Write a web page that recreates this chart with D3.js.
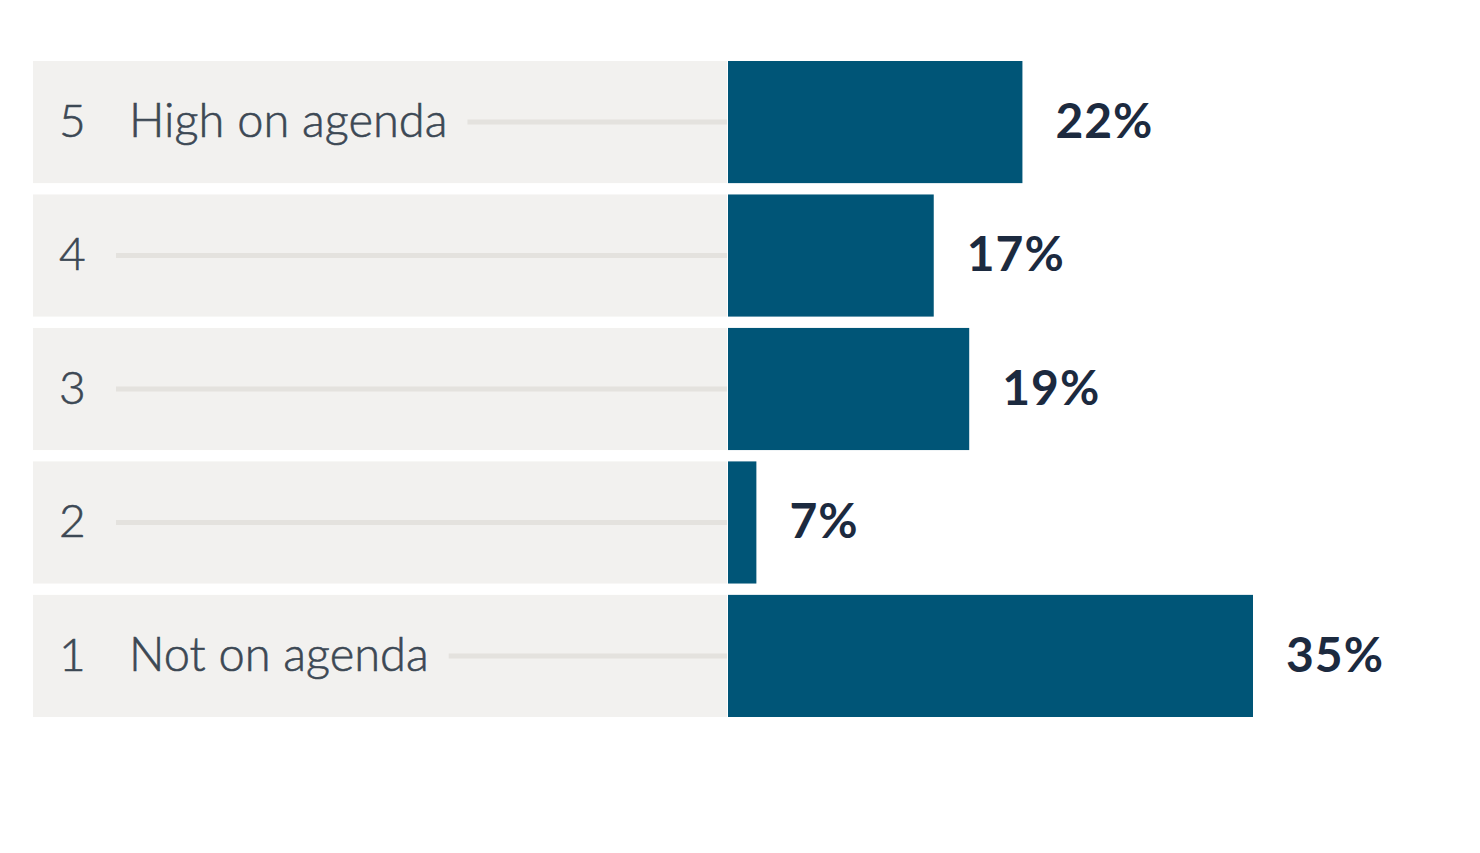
<!DOCTYPE html>
<html>
<head>
<meta charset="utf-8">
<script src="https://cdn.jsdelivr.net/npm/d3@7"></script>
<style>
  body { margin: 0; background: #fff; }
  svg { display: block; }
</style>
</head>
<body>
<svg id="chart"></svg>
<script>
const width = 1480;
const height = 853;

// agenda rating, top to bottom
const ratings = ['5', '4', '3', '2', '1'];
const ratingLabels = ['High on agenda', '', '', '', 'Not on agenda'];
const shares = [22, 17, 19, 7, 35];

const rows = ratings.map((r, i) => ({ rating: r, label: ratingLabels[i], value: shares[i] }));

const svg = d3.select('#chart')
    .attr('width', width)
    .attr('height', height)
    .style('font-family', '"Source Sans Pro", Lato, "Open Sans", sans-serif');

const y = d3.scaleBand()
    .domain(ratings)
    .range([61, 717])
    .paddingInner(0.085)
    .paddingOuter(0);

const x = d3.scaleLinear()
    .domain([5.4, 35])
    .range([728, 1253]);

const panelLeft = 33;
const panelRight = 727;

const row = svg.append('g')
  .selectAll('g')
  .data(rows)
  .join('g')
    .attr('transform', d => `translate(0,${y(d.rating)})`);

row.append('rect')
    .attr('x', panelLeft)
    .attr('width', panelRight - panelLeft)
    .attr('height', y.bandwidth())
    .attr('fill', '#f2f1ef');

row.append('text')
    .attr('x', 59)
    .attr('y', y.bandwidth() / 2)
    .attr('dy', '0.32em')
    .attr('fill', '#3c4854')
    .style('font-size', '46px')
    .style('font-weight', 300)
    .style('stroke', '#3c4854')
    .style('stroke-width', 0.6)
    .text(d => d.rating);

const label = row.append('text')
    .attr('x', 129)
    .attr('y', y.bandwidth() / 2)
    .attr('dy', '0.32em')
    .attr('fill', '#3c4854')
    .style('font-size', '47px')
    .style('font-weight', 300)
    .style('stroke', '#3c4854')
    .style('stroke-width', 0.6)
    .text(d => d.label);

// connector line from the label to the bar
row.append('line')
    .attr('x1', function(d) {
      const t = label.filter(l => l === d).node();
      return d.label ? 129 + t.getComputedTextLength() + 20 : 116;
    })
    .attr('x2', panelRight)
    .attr('y1', y.bandwidth() / 2)
    .attr('y2', y.bandwidth() / 2)
    .attr('stroke', '#e4e2de')
    .attr('stroke-width', 5);

row.append('rect')
    .attr('x', x(5.4))
    .attr('width', d => x(d.value) - x(5.4))
    .attr('height', y.bandwidth())
    .attr('fill', '#005577');

row.append('text')
    .attr('x', d => x(d.value) + 33)
    .attr('y', y.bandwidth() / 2)
    .attr('dy', '0.33em')
    .attr('fill', '#1c2a3f')
    .style('font-size', '48px')
    .style('letter-spacing', '1px')
    .style('font-weight', 700)
    .text(d => d.value + '%');
</script>
</body>
</html>
